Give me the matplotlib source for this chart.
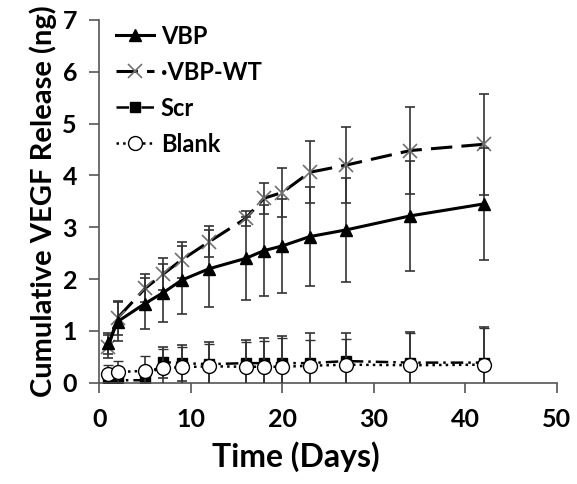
import matplotlib
matplotlib.use("Agg")
import matplotlib.pyplot as plt

plt.rcParams["font.family"] = ["Lato", "DejaVu Sans"]
plt.rcParams["font.weight"] = "bold"

days = [1, 2, 5, 7, 9, 12, 16, 18, 20, 23, 27, 34, 42]

vbp = [0.76, 1.18, 1.53, 1.74, 1.98, 2.2, 2.4, 2.55, 2.64, 2.82, 2.95, 3.22, 3.45]
vbp_err = [0.2, 0.38, 0.5, 0.56, 0.66, 0.74, 0.8, 0.88, 0.9, 0.96, 1.0, 1.06, 1.08]

vbp_wt = [0.7, 1.25, 1.82, 2.1, 2.37, 2.72, 3.17, 3.56, 3.67, 4.06, 4.2, 4.48, 4.6]
vbp_wt_err = [0.22, 0.32, 0.27, 0.31, 0.35, 0.3, 0.15, 0.3, 0.48, 0.6, 0.74, 0.84, 0.97]

scr = [0.04, 0.05, 0.05, 0.4, 0.38, 0.36, 0.38, 0.38, 0.38, 0.38, 0.42, 0.39, 0.39]
scr_err = [0.05, 0.05, 0.1, 0.3, 0.35, 0.42, 0.44, 0.48, 0.52, 0.58, 0.55, 0.6, 0.68]

blank = [0.17, 0.21, 0.23, 0.29, 0.3, 0.32, 0.31, 0.31, 0.31, 0.33, 0.35, 0.34, 0.35]
blank_err = [0.18, 0.22, 0.28, 0.36, 0.4, 0.42, 0.48, 0.5, 0.55, 0.5, 0.5, 0.62, 0.7]

fig = plt.figure(figsize=(5.77, 4.84), dpi=100)
ax = fig.add_axes([0.172, 0.209, 0.793, 0.75])

ebar = dict(ecolor="#333333", elinewidth=1.2, capsize=3.5, capthick=1.2)

ax.errorbar(days, blank, yerr=blank_err, color="black", ls=":", lw=1.8,
            marker="o", ms=10, mfc="white", mec="black", mew=1.0,
            label="Blank", zorder=3, **ebar)
ax.errorbar(days, scr, yerr=scr_err, color="black", ls=(0, (5, 2, 1, 2)), lw=1.8,
            marker="s", ms=7, mfc="black", mec="black",
            label="Scr", zorder=2, **ebar)
ax.errorbar(days, vbp_wt, yerr=vbp_wt_err, color="black", ls=(0, (7, 3)), lw=2.2,
            marker="x", ms=10, mec="#707070", mew=1.2,
            label="\u00b7VBP-WT", zorder=4, **ebar)
ax.errorbar(days, vbp, yerr=vbp_err, color="black", ls="-", lw=2.2,
            marker="^", ms=8, mfc="black", mec="black",
            label="VBP", zorder=5, **ebar)

ax.set_xlim(0, 50)
ax.set_ylim(0, 7)
ax.set_xticks(range(0, 51, 10))
ax.set_yticks(range(0, 8))
ax.spines["top"].set_visible(False)
ax.spines["right"].set_visible(False)
for s in ("left", "bottom"):
    ax.spines[s].set_color("#555555")
    ax.spines[s].set_linewidth(1.2)
ax.tick_params(direction="out", length=7, width=1.2, color="#555555",
               labelsize=18)
ax.tick_params(axis="x", pad=11)
ax.tick_params(axis="y", pad=9)

ax.set_xlabel("Time (Days)", fontsize=23, fontweight="bold")
ax.xaxis.set_label_coords(0.43, -0.16)
ax.set_ylabel("Cumulative VEGF Release (ng)", fontsize=21, fontweight="bold", labelpad=4)

handles, labels = ax.get_legend_handles_labels()
order = [3, 2, 1, 0]
ax.legend([handles[i][0] for i in order], [labels[i] for i in order],
          loc="upper left", bbox_to_anchor=(-0.01, 1.045), frameon=False,
          fontsize=17, handlelength=1.6, labelspacing=0.55, handletextpad=0.3)

fig.savefig("out.png", dpi=100)
